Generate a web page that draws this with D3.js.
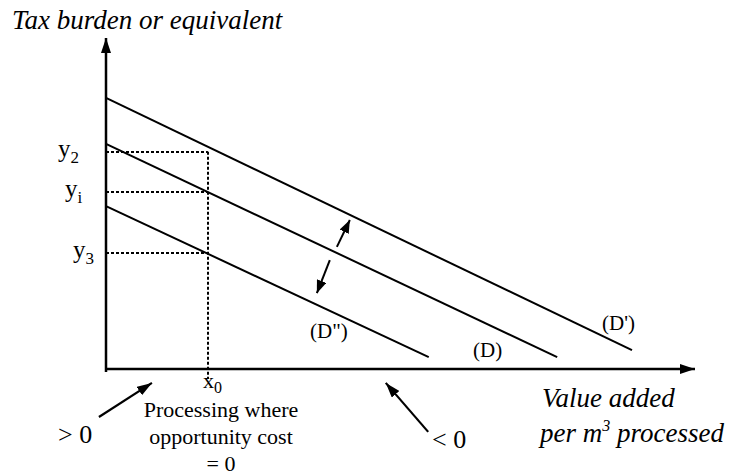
<!DOCTYPE html>
<html>
<head>
<meta charset="utf-8">
<script src="https://cdn.jsdelivr.net/npm/d3@7"></script>
<style>
  body { margin: 0; background: #fff; }
</style>
</head>
<body>
<svg id="chart"></svg>
<script>
// demand curves (value added on x, tax burden on y, both 0..100)
const curveNames = ["(D')", "(D)", "(D\")"];
const curveStartY = [81.9, 68.0, 49.2];
const curveEndX = [89.3, 76.6, 54.8];
const curveEndY = [5.7, 3.6, 3.6];

const x0Value = 17.3;
const levelSubs = ["2", "i", "3"];
const levelValues = [65.6, 53.5, 35.0];

// shift arrows between the curves [x from, y from, x to, y to]
const shiftArrows = [[39.2, 36.9, 41.4, 45.0], [38.0, 32.9, 35.8, 22.9]];
// sign arrows below the axis
const signLabels = ["> 0", "< 0"];
const signArrows = [[-1.2, -14.5, 7.8, -4.2], [54.7, -19.0, 47.5, -4.2]];

const width = 729, height = 475;
const serif = "Liberation Serif";
const svg = d3.select('#chart').attr('width', width).attr('height', height);

const xScale = d3.scaleLinear().domain([0, 100]).range([106, 695]);
const yScale = d3.scaleLinear().domain([0, 100]).range([369, 38]);

// arrow heads
const defs = svg.append('defs');
function marker(id, len, half) {
    defs.append('marker')
        .attr('id', id)
        .attr('markerUnits', 'userSpaceOnUse')
        .attr('viewBox', `0 ${-half} ${len} ${half * 2}`)
        .attr('refX', len).attr('refY', 0)
        .attr('markerWidth', len).attr('markerHeight', half * 2)
        .attr('orient', 'auto')
        .append('path')
        .attr('d', `M0,${-half}L${len},0L0,${half}Z`)
        .attr('fill', '#000');
}
marker('axisHead', 15, 5);
marker('smallHead', 13, 5);

// axes
svg.append('line')
    .attr('x1', xScale(0)).attr('y1', yScale(0) + 3)
    .attr('x2', xScale(0)).attr('y2', yScale(100))
    .attr('stroke', '#000').attr('stroke-width', 2.5)
    .attr('marker-end', 'url(#axisHead)');
svg.append('line')
    .attr('x1', xScale(0) - 1).attr('y1', yScale(0))
    .attr('x2', xScale(100)).attr('y2', yScale(0))
    .attr('stroke', '#000').attr('stroke-width', 2.5)
    .attr('marker-end', 'url(#axisHead)');

// dashed guides
const guides = svg.append('g').attr('stroke', '#000').attr('stroke-width', 2)
    .attr('stroke-dasharray', '3,2').attr('fill', 'none');
guides.selectAll('line.h').data(levelValues).enter().append('line')
    .attr('class', 'h')
    .attr('x1', xScale(0)).attr('x2', xScale(x0Value))
    .attr('y1', d => Math.round(yScale(d))).attr('y2', d => Math.round(yScale(d)));
guides.append('line')
    .attr('x1', Math.round(xScale(x0Value))).attr('x2', Math.round(xScale(x0Value)))
    .attr('y1', yScale(d3.max(levelValues))).attr('y2', yScale(0) + 10);

// demand curves
const curves = curveNames.map((n, i) => ({name: n, x1: 0, y1: curveStartY[i], x2: curveEndX[i], y2: curveEndY[i]}));
svg.selectAll('.curve').data(curves).enter().append('line')
    .attr('class', 'curve')
    .attr('x1', d => xScale(d.x1)).attr('y1', d => yScale(d.y1))
    .attr('x2', d => xScale(d.x2)).attr('y2', d => yScale(d.y2))
    .attr('stroke', '#000').attr('stroke-width', 2);

// curve labels
const curveLabelPos = [[602, 330], [473, 357], [310, 338]];
svg.selectAll('.curve-label').data(curves).enter().append('text')
    .attr('class', 'curve-label')
    .attr('font-family', serif)
    .attr('x', (d, i) => curveLabelPos[i][0]).attr('y', (d, i) => curveLabelPos[i][1])
    .attr('font-size', 21)
    .text(d => d.name);

// shift arrows
svg.selectAll('.shift').data(shiftArrows).enter().append('line')
    .attr('class', 'shift')
    .attr('x1', d => xScale(d[0])).attr('y1', d => yScale(d[1]))
    .attr('x2', d => xScale(d[2])).attr('y2', d => yScale(d[3]))
    .attr('stroke', '#000').attr('stroke-width', 2)
    .attr('marker-end', 'url(#smallHead)');

// sign arrows
svg.selectAll('.sign').data(signArrows).enter().append('line')
    .attr('class', 'sign')
    .attr('x1', d => xScale(d[0])).attr('y1', d => yScale(d[1]))
    .attr('x2', d => xScale(d[2])).attr('y2', d => yScale(d[3]))
    .attr('stroke', '#000').attr('stroke-width', 2.2)
    .attr('marker-end', 'url(#axisHead)');
const signLabelPos = [[58, 443], [432, 448]];
svg.selectAll('.sign-label').data(signLabels).enter().append('text')
    .attr('font-family', serif)
    .attr('x', (d, i) => signLabelPos[i][0]).attr('y', (d, i) => signLabelPos[i][1])
    .attr('font-size', 26)
    .text(d => d);

// y level labels
const levelLabelX = [58, 65, 73];
const levelLabels = svg.selectAll('.level').data(levelValues).enter().append('text')
    .attr('class', 'level')
    .attr('font-family', serif)
    .attr('x', (d, i) => levelLabelX[i])
    .attr('y', d => yScale(d) + 5)
    .attr('font-size', 25);
levelLabels.append('tspan').text('y');
levelLabels.append('tspan').attr('font-size', 17).attr('dy', 6).text((d, i) => levelSubs[i]);

// x0 label
const x0Label = svg.append('text')
    .attr('font-family', serif)
    .attr('x', xScale(x0Value) - 5).attr('y', 388)
    .attr('font-size', 22);
x0Label.append('tspan').text('x');
x0Label.append('tspan').attr('font-size', 16).attr('dy', 5).text('0');

// note under x0
const noteLines = ["Processing where", "opportunity cost", "= 0"];
svg.selectAll('.note').data(noteLines).enter().append('text')
    .attr('class', 'note')
    .attr('font-family', serif)
    .attr('x', 221).attr('y', (d, i) => 417 + i * 27)
    .attr('text-anchor', 'middle')
    .attr('font-size', 22)
    .text(d => d);

// axis titles
svg.append('text')
    .attr('font-family', serif)
    .attr('x', 12).attr('y', 29)
    .attr('font-size', 27).attr('font-style', 'italic')
    .text('Tax burden or equivalent');
svg.append('text')
    .attr('font-family', serif)
    .attr('x', 542).attr('y', 407)
    .attr('font-size', 27).attr('font-style', 'italic')
    .text('Value added');
const xt = svg.append('text')
    .attr('font-family', serif)
    .attr('x', 540).attr('y', 442)
    .attr('font-size', 27).attr('font-style', 'italic');
xt.append('tspan').text('per m');
xt.append('tspan').attr('font-size', 16).attr('dy', -11).text('3');
xt.append('tspan').attr('dy', 11).text(' processed');
</script>
</body>
</html>
